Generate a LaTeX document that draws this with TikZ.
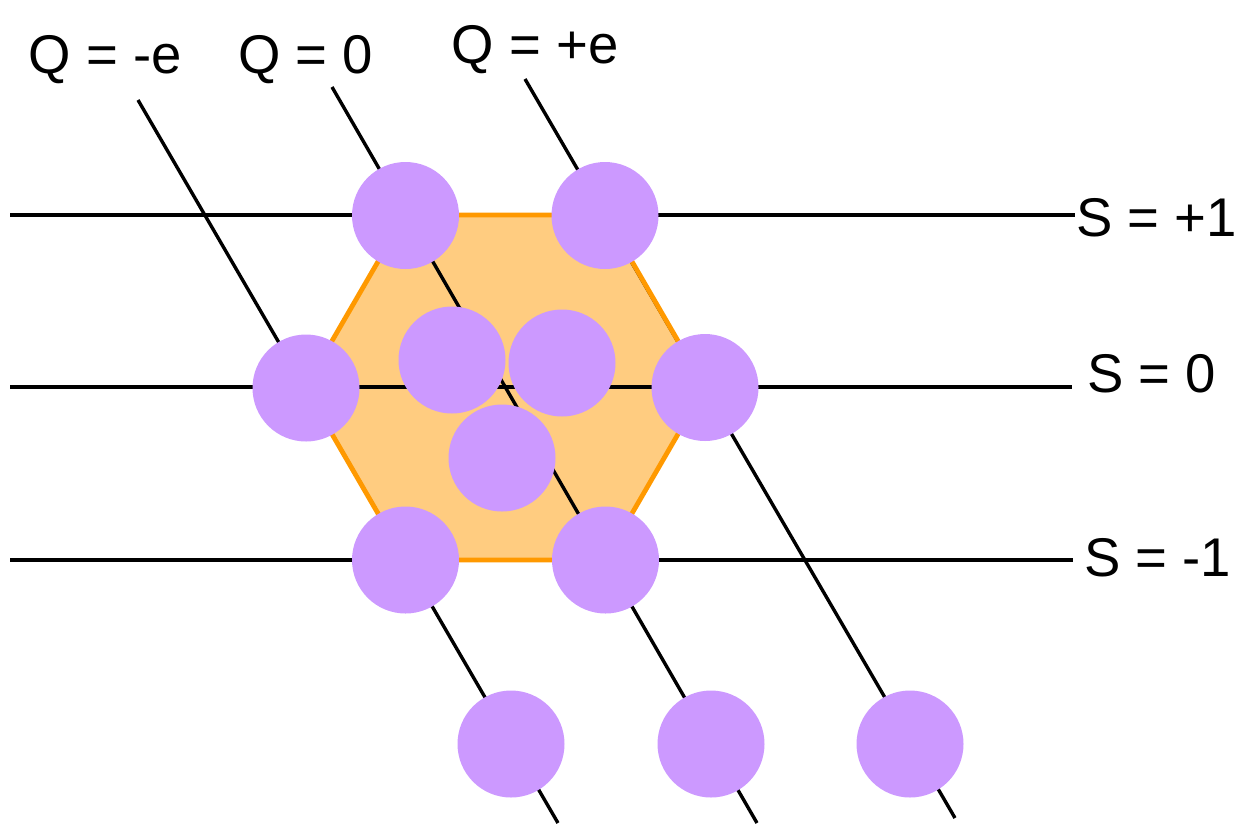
\documentclass[tikz,border=0pt]{standalone}
\usepackage{fontspec}
\setmainfont{Liberation Sans}
\definecolor{quark}{HTML}{CC99FF}
\definecolor{hexfill}{HTML}{FFCC80}
\definecolor{hexline}{HTML}{FF9900}
\begin{document}
\begin{tikzpicture}[x=1pt,y=-1pt,
  gridline/.style={line width=3.4pt,black},
  hexedge/.style={line width=4.8pt,hexline,line join=miter},
  particle/.style={circle,fill=quark,draw=none,minimum size=107pt,inner sep=0pt},
  lbl/.style={inner sep=0pt,anchor=base west,font=\fontsize{54.5}{60}\selectfont}]
\useasboundingbox (0,0) rectangle (1246,823);
% hexagon vertices
\coordinate (h1) at (405,215);
\coordinate (h2) at (605,215);
\coordinate (h3) at (705,387.5);
\coordinate (h4) at (605,560);
\coordinate (h5) at (405,560);
\coordinate (h6) at (305,387.5);
\fill[hexfill] (h1)--(h2)--(h3)--(h4)--(h5)--(h6)--cycle;
% line end points
\coordinate (sa) at (10,215);   \coordinate (sb) at (1075,215);
\coordinate (sc) at (10,387);   \coordinate (sd) at (1072,387);
\coordinate (se) at (10,560);   \coordinate (sf) at (1073,560);
\coordinate (qa) at (138,100);  \coordinate (qb) at (558,823);
\coordinate (qc) at (332,87);   \coordinate (qd) at (757,823);
\coordinate (qe) at (525,79);   \coordinate (qf) at (955,818);
\draw[gridline] (sa) -- (sb);
\draw[gridline] (sc) -- (sd);
\draw[gridline] (se) -- (sf);
\draw[gridline] (qa) -- (qb);
\draw[gridline] (qc) -- (qd);
\draw[gridline] (qe) -- (qf);
\draw[hexedge] (h1)--(h2)--(h3)--(h4)--(h5)--(h6)--cycle;
% particles
\node[particle] (p1) at (405.5,215.5) {};
\node[particle] (p2) at (605,215.5) {};
\node[particle] (p3) at (306,388) {};
\node[particle] (p4) at (705,387.5) {};
\node[particle] (p5) at (405.5,560) {};
\node[particle] (p6) at (605.5,560) {};
\node[particle] (p7) at (452,360) {};
\node[particle] (p8) at (562,363) {};
\node[particle] (p9) at (502,458) {};
\node[particle] (p10) at (511,744) {};
\node[particle] (p11) at (711,744) {};
\node[particle] (p12) at (910,744) {};
% labels
\node[lbl] (lqm) at (28.5,73) {Q = -e};
\node[lbl] (lq0) at (238,73) {Q = 0};
\node[lbl] (lqp) at (451.5,63) {Q = +e};
\node[lbl] (lsp) at (1076,236) {S = +1};
\node[lbl] (ls0) at (1087,392) {S = 0};
\node[lbl] (lsm) at (1084,576) {S = -1};
\end{tikzpicture}
\end{document}
